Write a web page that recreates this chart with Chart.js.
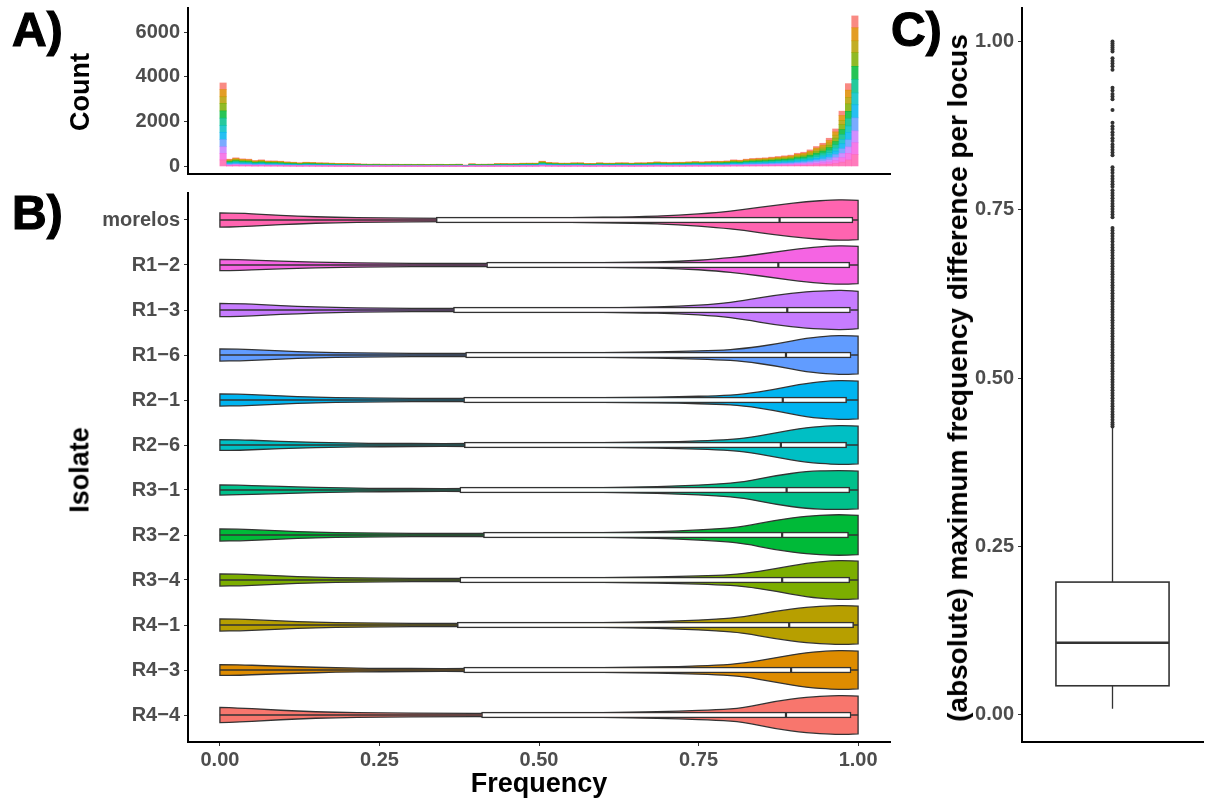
<!DOCTYPE html>
<html>
<head>
<meta charset="utf-8">
<script src="https://cdn.jsdelivr.net/npm/chart.js@4.4.1/dist/chart.umd.min.js"></script>
<style>
body { margin: 0; background: #fff; }
#wrap { position: relative; width: 1207px; height: 798px; overflow: hidden; font-family: 'Liberation Sans', Arial, sans-serif; }
canvas { position: absolute; }
.title { position: absolute; font-weight: bold; font-size: 27px; color: #000; white-space: nowrap; transform: translate(-50%, -50%); }
.title.rot { transform: translate(-50%, -50%) rotate(-90deg); }
.panel { position: absolute; font-weight: bold; font-size: 48px; line-height: 1; color: #000; -webkit-text-stroke: 1.2px #000; }
</style>
</head>
<body>
<div id="wrap">
  <canvas id="histA" width="900" height="180" style="left:0;top:0"></canvas>
  <canvas id="violinB" width="900" height="618" style="left:0;top:180px"></canvas>
  <canvas id="boxC" width="307" height="798" style="left:900px;top:0"></canvas>

  <div class="panel" style="left:12px;top:6px">A)</div>
  <div class="panel" style="left:12px;top:189px">B)</div>
  <div class="panel" style="left:891px;top:6px">C)</div>

  <div class="title rot" style="left:80px;top:92px">Count</div>
  <div class="title rot" style="left:80px;top:470px">Isolate</div>
  <div class="title" style="left:539px;top:783px">Frequency</div>
  <div class="title rot" style="left:958px;top:378px;font-size:28px">(absolute) maximum frequency difference per locus</div>
</div>

<script>
// isolates, top row first (morelos) -> bottom row (R4-4); also bottom -> top of the histogram stack
const ISOLATES = ['morelos', 'R1−2', 'R1−3', 'R1−6', 'R2−1', 'R2−6', 'R3−1', 'R3−2', 'R3−4', 'R4−1', 'R4−3', 'R4−4'];
const COLORS = ['#FF64B0', '#F564E3', '#C77CFF', '#619CFF', '#00B4F0', '#00BFC4', '#00C08B', '#00BA38', '#7CAE00', '#B79F00', '#DE8C00', '#F8766D'];

// A) histogram: 100 bins over [0, 1], total count per bin
const BIN_START = 0;
const BIN_WIDTH = 0.01;
const HIST_TOTAL = [
  3730, 325, 385, 340, 325, 265, 295, 250, 250, 235,
  205, 190, 165, 190, 180, 165, 160, 150, 135, 135,
  130, 120, 108, 104, 106, 102, 100, 103, 98, 100,
  97, 99, 96, 98, 100, 96, 99, 104, 60, 120,
  102, 104, 106, 128, 130, 126, 130, 148, 150, 150,
  235, 180, 165, 150, 150, 165, 165, 135, 135, 165,
  150, 150, 165, 165, 150, 165, 165, 180, 205, 190,
  180, 190, 190, 205, 220, 205, 220, 235, 235, 250,
  295, 280, 325, 355, 370, 385, 415, 445, 475, 505,
  590, 635, 740, 890, 1035, 1260, 1675, 2470, 3700, 6725
];
// segment heights of the tallest bars, per isolate (same order as ISOLATES)
const HIST_SHARE = [20, 20, 20, 22, 22, 20, 23, 22, 23, 20, 22, 20];
const A_TICKS = [0, 2000, 4000, 6000];

// B) violins: half-width profile (1 = widest) at these frequencies
const VIOLIN_X = [0, 0.03, 0.07, 0.12, 0.18, 0.25, 0.35, 0.45, 0.55, 0.65, 0.72, 0.78, 0.82, 0.87, 0.92, 0.96, 0.98, 1.0];
const VIOLIN_DENSITY = [
  [0.35, 0.34, 0.27, 0.19, 0.13, 0.10, 0.08, 0.09, 0.11, 0.16, 0.23, 0.37, 0.51, 0.73, 0.91, 0.99, 1.00, 0.97],
  [0.28, 0.27, 0.22, 0.16, 0.12, 0.09, 0.07, 0.08, 0.09, 0.13, 0.17, 0.30, 0.42, 0.64, 0.85, 0.94, 0.95, 0.92],
  [0.33, 0.32, 0.26, 0.18, 0.12, 0.09, 0.07, 0.08, 0.09, 0.13, 0.18, 0.30, 0.46, 0.73, 0.91, 0.96, 0.97, 0.92],
  [0.30, 0.29, 0.24, 0.17, 0.12, 0.09, 0.07, 0.08, 0.09, 0.13, 0.17, 0.23, 0.31, 0.53, 0.84, 0.95, 0.96, 0.93],
  [0.30, 0.29, 0.24, 0.17, 0.12, 0.09, 0.07, 0.08, 0.09, 0.13, 0.16, 0.21, 0.28, 0.52, 0.84, 0.95, 0.96, 0.93],
  [0.27, 0.26, 0.21, 0.15, 0.11, 0.08, 0.07, 0.08, 0.09, 0.13, 0.17, 0.24, 0.32, 0.59, 0.87, 0.95, 0.96, 0.93],
  [0.25, 0.24, 0.20, 0.15, 0.11, 0.08, 0.07, 0.08, 0.10, 0.14, 0.20, 0.29, 0.39, 0.71, 0.92, 0.96, 0.96, 0.93],
  [0.30, 0.29, 0.24, 0.17, 0.12, 0.09, 0.07, 0.08, 0.10, 0.14, 0.20, 0.30, 0.41, 0.73, 0.94, 1.00, 1.00, 0.97],
  [0.30, 0.29, 0.24, 0.17, 0.12, 0.09, 0.07, 0.08, 0.09, 0.13, 0.17, 0.23, 0.31, 0.55, 0.84, 0.95, 0.96, 0.93],
  [0.30, 0.29, 0.24, 0.17, 0.12, 0.09, 0.07, 0.08, 0.10, 0.14, 0.20, 0.29, 0.39, 0.68, 0.88, 0.95, 0.96, 0.93],
  [0.27, 0.26, 0.21, 0.16, 0.11, 0.08, 0.07, 0.08, 0.09, 0.13, 0.17, 0.24, 0.32, 0.60, 0.87, 0.95, 0.96, 0.93],
  [0.38, 0.35, 0.28, 0.19, 0.13, 0.10, 0.08, 0.08, 0.10, 0.14, 0.19, 0.26, 0.34, 0.68, 0.88, 0.95, 0.96, 0.93]
];
// B) boxplot stats per isolate
const WHISKER_LO = [0, 0, 0, 0, 0, 0, 0, 0, 0, 0, 0, 0];
const BOX_Q1 = [0.339, 0.418, 0.366, 0.385, 0.382, 0.383, 0.376, 0.413, 0.376, 0.372, 0.382, 0.410];
const BOX_MED = [0.877, 0.875, 0.889, 0.887, 0.882, 0.879, 0.888, 0.881, 0.881, 0.892, 0.895, 0.887];
const BOX_Q3 = [0.992, 0.987, 0.988, 0.989, 0.982, 0.982, 0.987, 0.985, 0.987, 0.993, 0.989, 0.989];
const WHISKER_HI = [1, 1, 1, 1, 1, 1, 1, 1, 1, 1, 1, 1];
const B_TICKS = [0, 0.25, 0.5, 0.75, 1];

// C) boxplot: lower whisker, Q1, median, Q3, upper whisker
const C_BOX = [0.009, 0.043, 0.107, 0.197, 0.427];
const C_OUTLIERS = [
  1.000, 0.997, 0.994, 0.991, 0.988, 0.985,
  0.975, 0.971, 0.967, 0.963, 0.958,
  0.931, 0.927, 0.922, 0.918, 0.914,
  0.898,
  0.879, 0.874, 0.870, 0.865, 0.861, 0.856, 0.852, 0.847, 0.843, 0.839, 0.835, 0.831,
  0.813, 0.809, 0.805, 0.800, 0.796, 0.792, 0.788, 0.784, 0.779, 0.775, 0.771, 0.767,
  0.763, 0.759, 0.755, 0.751, 0.747, 0.743, 0.739,
  0.723, 0.719, 0.715, 0.711, 0.707, 0.703, 0.698, 0.694, 0.690, 0.686, 0.682, 0.678,
  0.674, 0.670, 0.666, 0.662, 0.658, 0.654, 0.650, 0.646, 0.642, 0.638, 0.634, 0.630,
  0.626, 0.622, 0.618, 0.614, 0.610, 0.606, 0.602, 0.598, 0.594, 0.590, 0.586, 0.582,
  0.578, 0.574, 0.570, 0.566, 0.562, 0.558, 0.554, 0.550, 0.546, 0.542, 0.538, 0.534,
  0.530, 0.526, 0.522, 0.518, 0.514, 0.510, 0.506, 0.502, 0.498, 0.494, 0.490, 0.486,
  0.482, 0.478, 0.474, 0.470, 0.466, 0.462, 0.458, 0.454, 0.450, 0.446, 0.442, 0.438,
  0.434, 0.431, 0.428
];
const C_TICKS = [0, 0.25, 0.5, 0.75, 1];

const FONT = "'Liberation Sans', Arial, sans-serif";
const TICK_FONT = { family: FONT, size: 20, weight: 'bold' };
const TICK_COLOR = '#4D4D4D';
const INK = '#333333';

function hexA(hex, a) {
  const n = parseInt(hex.slice(1), 16);
  return 'rgba(' + (n >> 16 & 255) + ',' + (n >> 8 & 255) + ',' + (n & 255) + ',' + a + ')';
}

// pin the axis box size so the plot areas line up across the three panels
function fixBox(w, h) {
  return function (s) {
    if (w !== null) s.width = w;
    if (h !== null) s.height = h;
    s.paddingTop = 0; s.paddingBottom = 0; s.paddingLeft = 0; s.paddingRight = 0;
  };
}

function setTicks(values) {
  return function (s) { s.ticks = values.map(v => ({ value: v })); };
}

const axisBorder = { display: true, color: '#000', width: 2 };
const tickGrid = { display: true, drawOnChartArea: false, drawTicks: true, tickLength: 4, color: INK, lineWidth: 1, offset: false };

// ---------- A) stacked histogram ----------
const shareSum = HIST_SHARE.reduce((a, b) => a + b, 0);
const histDatasets = ISOLATES.map((name, k) => ({
  label: name,
  data: HIST_TOTAL.map((t, i) => ({ x: BIN_START + (i + 0.5) * BIN_WIDTH, y: t * HIST_SHARE[k] / shareSum })),
  backgroundColor: hexA(COLORS[k], 0.85),
  borderWidth: 0,
  barPercentage: 1,
  categoryPercentage: 1
}));

new Chart(document.getElementById('histA'), {
  type: 'bar',
  data: { datasets: histDatasets },
  options: {
    responsive: false,
    animation: false,
    layout: { padding: { top: 8, right: 10, bottom: 0, left: 0 } },
    plugins: { legend: { display: false }, tooltip: { enabled: false } },
    scales: {
      x: {
        type: 'linear', stacked: true, offset: false, min: -0.05, max: 1.05,
        ticks: { display: false },
        grid: { display: false, offset: false },
        border: axisBorder,
        afterFit: fixBox(null, 6)
      },
      y: {
        type: 'linear', stacked: true, min: -337, max: 7079,
        afterBuildTicks: setTicks(A_TICKS),
        ticks: { font: TICK_FONT, color: TICK_COLOR, padding: 4, callback: v => String(v) },
        grid: tickGrid,
        border: axisBorder,
        afterFit: fixBox(188, null)
      }
    }
  }
});

// ---------- B) violins + boxplots ----------
const VIOLIN_HALF = 0.45;  // widest half-width, in row units
const BOX_THICK = 6;

function traceSmooth(ctx, pts, start) {
  if (start) ctx.moveTo(pts[0][0], pts[0][1]); else ctx.lineTo(pts[0][0], pts[0][1]);
  for (let k = 1; k < pts.length - 1; k++) {
    const mx = (pts[k][0] + pts[k + 1][0]) / 2, my = (pts[k][1] + pts[k + 1][1]) / 2;
    ctx.quadraticCurveTo(pts[k][0], pts[k][1], mx, my);
  }
  const last = pts[pts.length - 1];
  ctx.lineTo(last[0], last[1]);
}

const violinPlugin = {
  id: 'violins',
  beforeDatasetsDraw(chart) {
    const { ctx, scales: { x, y } } = chart;
    const rowPx = Math.abs(y.getPixelForValue(1) - y.getPixelForValue(2));
    ctx.save();
    ISOLATES.forEach((name, i) => {
      const cy = y.getPixelForValue(ISOLATES.length - i);
      const half = VIOLIN_DENSITY[i].map(d => d * VIOLIN_HALF * rowPx);
      const top = VIOLIN_X.map((v, k) => [x.getPixelForValue(v), cy - half[k]]);
      const bot = VIOLIN_X.map((v, k) => [x.getPixelForValue(v), cy + half[k]]).reverse();
      ctx.beginPath();
      traceSmooth(ctx, top, true);
      traceSmooth(ctx, bot, false);
      ctx.closePath();
      ctx.fillStyle = COLORS[i];
      ctx.fill();
      ctx.lineWidth = 1.3;
      ctx.strokeStyle = INK;
      ctx.stroke();
      // whiskers
      ctx.beginPath();
      ctx.moveTo(x.getPixelForValue(WHISKER_LO[i]), cy);
      ctx.lineTo(x.getPixelForValue(BOX_Q1[i]), cy);
      ctx.moveTo(x.getPixelForValue(BOX_Q3[i]), cy);
      ctx.lineTo(x.getPixelForValue(WHISKER_HI[i]), cy);
      ctx.lineWidth = 1.4;
      ctx.stroke();
    });
    ctx.restore();
  },
  afterDatasetsDraw(chart) {
    const { ctx, scales: { x, y } } = chart;
    ctx.save();
    ctx.strokeStyle = INK;
    ctx.lineWidth = 2.2;
    ISOLATES.forEach((name, i) => {
      const cy = y.getPixelForValue(ISOLATES.length - i);
      const mx = x.getPixelForValue(BOX_MED[i]);
      ctx.beginPath();
      ctx.moveTo(mx, cy - BOX_THICK / 2);
      ctx.lineTo(mx, cy + BOX_THICK / 2);
      ctx.stroke();
    });
    ctx.restore();
  }
};

new Chart(document.getElementById('violinB'), {
  type: 'bar',
  data: {
    datasets: [{
      label: 'IQR',
      data: ISOLATES.map((name, i) => ({ y: ISOLATES.length - i, x: [BOX_Q1[i], BOX_Q3[i]] })),
      backgroundColor: '#ffffff',
      borderColor: INK,
      borderWidth: 1.5,
      borderSkipped: false,
      barThickness: BOX_THICK
    }]
  },
  options: {
    indexAxis: 'y',
    responsive: false,
    animation: false,
    layout: { padding: { top: 13, right: 10, bottom: 0, left: 0 } },
    plugins: { legend: { display: false }, tooltip: { enabled: false } },
    scales: {
      x: {
        type: 'linear', min: -0.05, max: 1.05,
        afterBuildTicks: setTicks(B_TICKS),
        ticks: { font: TICK_FONT, color: TICK_COLOR, padding: 2, callback: v => v.toFixed(2) },
        grid: tickGrid,
        border: axisBorder,
        afterFit: fixBox(null, 56)
      },
      y: {
        type: 'linear', offset: false, min: 0.4, max: 12.6,
        afterBuildTicks: setTicks(ISOLATES.map((n, i) => ISOLATES.length - i)),
        ticks: { font: TICK_FONT, color: TICK_COLOR, padding: 4, autoSkip: false, callback: v => ISOLATES[ISOLATES.length - v] },
        grid: tickGrid,
        border: axisBorder,
        afterFit: fixBox(188, null)
      }
    }
  },
  plugins: [violinPlugin]
});

// ---------- C) boxplot of max frequency difference ----------
const C_BOX_WIDTH = 0.75;

const boxPluginC = {
  id: 'boxC',
  beforeDatasetsDraw(chart) {
    const { ctx, scales: { x, y } } = chart;
    const x0 = x.getPixelForValue(1 - C_BOX_WIDTH / 2);
    const x1 = x.getPixelForValue(1 + C_BOX_WIDTH / 2);
    const xc = x.getPixelForValue(1);
    const [lo, q1, med, q3, hi] = C_BOX.map(v => y.getPixelForValue(v));
    ctx.save();
    ctx.strokeStyle = INK;
    ctx.lineWidth = 1.3;
    ctx.beginPath();
    ctx.moveTo(xc, lo); ctx.lineTo(xc, q1);
    ctx.moveTo(xc, q3); ctx.lineTo(xc, hi);
    ctx.stroke();
    ctx.fillStyle = '#fff';
    ctx.fillRect(x0, q3, x1 - x0, q1 - q3);
    ctx.lineWidth = 1.6;
    ctx.strokeRect(x0, q3, x1 - x0, q1 - q3);
    ctx.lineWidth = 2.6;
    ctx.beginPath();
    ctx.moveTo(x0, med); ctx.lineTo(x1, med);
    ctx.stroke();
    ctx.restore();
  }
};

new Chart(document.getElementById('boxC'), {
  type: 'scatter',
  data: {
    datasets: [{
      label: 'outliers',
      data: C_OUTLIERS.map(v => ({ x: 1, y: v })),
      pointRadius: 2,
      pointBackgroundColor: INK,
      pointBorderWidth: 0
    }]
  },
  options: {
    responsive: false,
    animation: false,
    layout: { padding: { top: 8, right: 0, bottom: 0, left: 0 } },
    plugins: { legend: { display: false }, tooltip: { enabled: false } },
    scales: {
      x: {
        type: 'linear', min: 0.4, max: 1.6,
        ticks: { display: false },
        grid: { display: false },
        border: axisBorder,
        afterFit: fixBox(null, 56)
      },
      y: {
        type: 'linear', min: -0.0405, max: 1.0496,
        afterBuildTicks: setTicks(C_TICKS),
        ticks: { font: TICK_FONT, color: TICK_COLOR, padding: 4, callback: v => v.toFixed(2) },
        grid: tickGrid,
        border: axisBorder,
        afterFit: fixBox(122, null)
      }
    }
  },
  plugins: [boxPluginC]
});
</script>
</body>
</html>
